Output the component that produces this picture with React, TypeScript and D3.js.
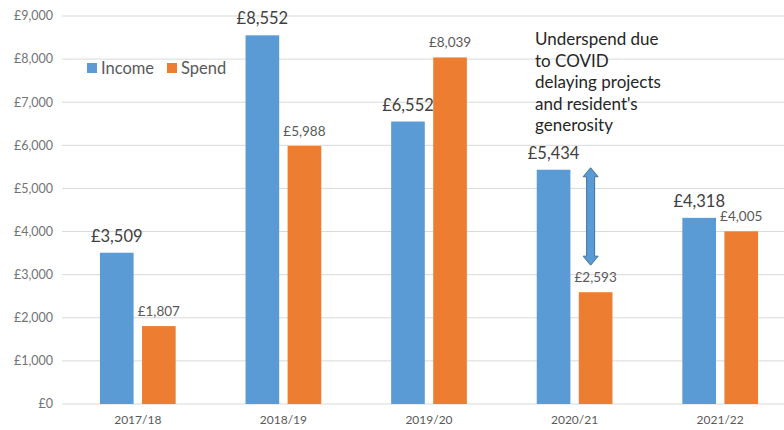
import React from "react";
import * as d3 from "d3";

const categories = ["2017/18", "2018/19", "2019/20", "2020/21", "2021/22"];
const income = [3509, 8552, 6552, 5434, 4318];
const spend = [1807, 5988, 8039, 2593, 4005];
const yTicks = [0, 1000, 2000, 3000, 4000, 5000, 6000, 7000, 8000, 9000];
const seriesNames = ["Income", "Spend"];
const seriesColors = ["#5B9BD5", "#ED7D31"];
const noteLines = ["Underspend due", "to COVID", "delaying projects", "and resident's", "generosity"];
const arrowCategory = "2020/21";
const arrowFrom = 3220; // value-axis ends of the double arrow
const arrowTo = 5480;

const W = 784;
const H = 430;
const FONT = "Lato, 'Open Sans', sans-serif";

export default function App() {
  const y = d3.scaleLinear().domain([0, 9000]).range([404, 16]);
  const x0 = d3.scaleBand<string>().domain(categories).range([65, 793]).paddingInner(0.48).paddingOuter(0.24);
  const x1 = d3.scaleBand<string>().domain(seriesNames).range([0, x0.bandwidth()]).paddingInner(0.2);
  const fmt = (v: number) => "£" + d3.format(",")(v);
  const series = [income, spend];

  const ax = (x0(arrowCategory) as number) + (x1("Spend") as number) + x1.bandwidth() / 2 - 5;
  const yTop = y(arrowTo);
  const yBot = y(arrowFrom);
  const hw = 7.5, hl = 9, sw = 4;
  const arrowPath = `M${ax},${yTop} L${ax + hw},${yTop + hl} L${ax + sw},${yTop + hl} L${ax + sw},${yBot - hl} L${ax + hw},${yBot - hl} L${ax},${yBot} L${ax - hw},${yBot - hl} L${ax - sw},${yBot - hl} L${ax - sw},${yTop + hl} L${ax - hw},${yTop + hl} Z`;

  return (
    <svg width={W} height={H} style={{ position: "absolute", left: 0, top: 0, background: "#fff" }} fontFamily={FONT}>
      {yTicks.map((t) => (
        <g key={t}>
          <line x1={62} x2={W} y1={y(t)} y2={y(t)} stroke="#d9d9d9" strokeWidth={1} />
          <text x={53} y={y(t)} dy="0.35em" textAnchor="end" fontSize={12.5} fill="#737373">
            {fmt(t)}
          </text>
        </g>
      ))}
      {categories.map((c, i) => (
        <g key={c} transform={`translate(${x0(c)},0)`}>
          {series.map((s, j) => {
            const bx = x1(seriesNames[j]) as number;
            return (
              <g key={j}>
                <rect x={bx} y={y(s[i])} width={x1.bandwidth()} height={y(0) - y(s[i])} fill={seriesColors[j]} />
                <text
                  x={bx + x1.bandwidth() / 2}
                  y={y(s[i]) - (j === 0 ? 11 : 10)}
                  textAnchor="middle"
                  fontSize={j === 0 ? 16.5 : 13.5}
                  fill={j === 0 ? "#404040" : "#595959"}
                >
                  {fmt(s[i])}
                </text>
              </g>
            );
          })}
          <text x={x0.bandwidth() / 2} y={424} textAnchor="middle" fontSize={12} fill="#595959">
            {c}
          </text>
        </g>
      ))}
      <g transform="translate(87,68)">
        {seriesNames.map((n, j) => (
          <g key={n} transform={`translate(${j * 80},0)`}>
            <rect x={0} y={-5} width={10} height={10} fill={seriesColors[j]} />
            <text x={14} y={0} dy="0.35em" fontSize={16.5} fill="#595959">
              {n}
            </text>
          </g>
        ))}
      </g>
      <g>
        {noteLines.map((l, i) => (
          <text key={i} x={535} y={45 + i * 21.5} fontSize={17} fill="#262626">
            {l}
          </text>
        ))}
      </g>
      <path d={arrowPath} fill="#5B9BD5" stroke="#41719C" strokeWidth={1} />
    </svg>
  );
}
